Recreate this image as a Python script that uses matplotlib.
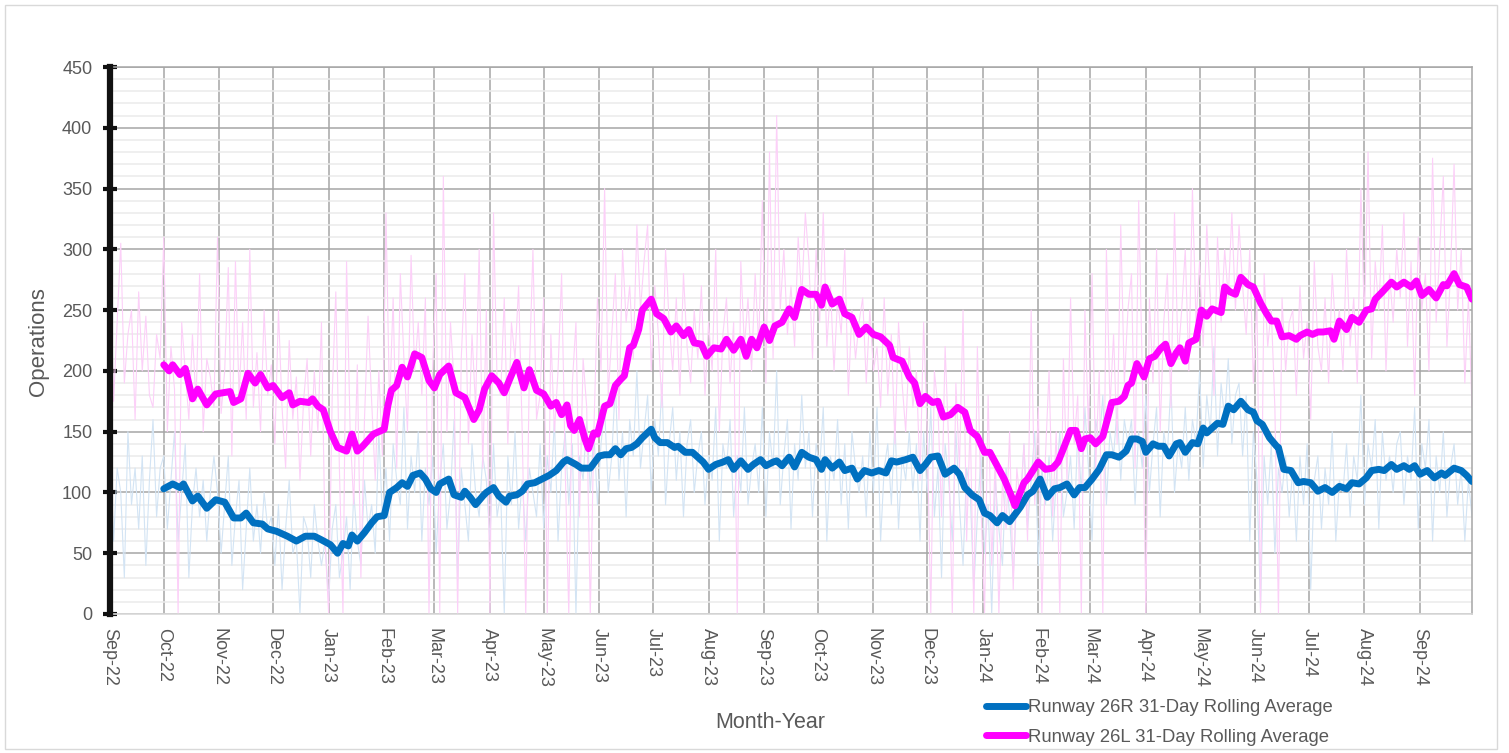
import numpy as np
import matplotlib
matplotlib.use("Agg")
import matplotlib.pyplot as plt
import matplotlib.dates as mdates
from matplotlib.patches import Rectangle
from matplotlib.lines import Line2D
from matplotlib.ticker import MultipleLocator

plt.rcParams['font.family'] = ['Liberation Sans', 'DejaVu Sans']

START = np.datetime64('2022-09-01')
RAW_STEP_DAYS = 2

# Daily operations (estimated from the faint traces, one value every 2 days from 2022-09-01)
runway_26l_daily = [
    300, 175, 240, 305, 190, 230, 250, 160, 265, 200, 245, 180, 170, 230, 210,
    310, 150, 220, 185, 0, 240, 200, 160, 230, 175, 280, 150, 210, 195, 170,
    310, 165, 200, 285, 130, 290, 180, 240, 160, 300, 170, 215, 150, 250, 180,
    205, 140, 250, 170, 120, 225, 160, 195, 110, 175, 210, 130, 200, 150, 240,
    60, 0, 180, 265, 120, 0, 290, 150, 90, 205, 30, 160, 245, 175, 110,
    200, 130, 330, 170, 260, 120, 280, 210, 150, 295, 200, 240, 180, 260, 0,
    200, 280, 0, 360, 150, 240, 190, 0, 210, 280, 140, 230, 170, 300, 120,
    250, 0, 330, 190, 180, 260, 140, 240, 210, 270, 150, 0, 200, 300, 160,
    180, 260, 0, 230, 150, 200, 280, 120, 0, 190, 240, 80, 210, 170, 0,
    150, 260, 200, 350, 180, 230, 280, 160, 300, 240, 270, 210, 320, 250, 290,
    320, 200, 270, 230, 170, 300, 240, 200, 260, 180, 280, 220, 190, 250, 210,
    270, 180, 240, 200, 300, 150, 230, 260, 190, 240, 0, 290, 220, 260, 200,
    280, 220, 340, 190, 380, 210, 410, 250, 300, 230, 270, 220, 310, 260, 330,
    290, 210, 300, 240, 330, 220, 270, 200, 260, 230, 300, 180, 250, 210, 240,
    260, 190, 250, 200, 220, 170, 260, 180, 230, 140, 240, 190, 150, 220, 170,
    200, 110, 240, 150, 0, 200, 170, 80, 220, 140, 0, 190, 120, 250, 60,
    160, 0, 220, 90, 0, 180, 40, 130, 0, 110, 70, 150, 20, 120, 90,
    140, 60, 250, 90, 170, 0, 130, 200, 80, 150, 0, 210, 110, 260, 140,
    180, 0, 250, 150, 280, 120, 200, 0, 300, 170, 230, 140, 320, 190, 250,
    280, 120, 340, 200, 0, 260, 190, 300, 150, 240, 280, 170, 330, 210, 250,
    300, 200, 350, 240, 290, 220, 320, 260, 180, 310, 240, 300, 260, 330, 250,
    320, 270, 230, 300, 190, 260, 0, 280, 220, 250, 170, 0, 260, 200, 240,
    250, 180, 270, 210, 240, 160, 290, 220, 200, 260, 190, 280, 230, 250, 200,
    300, 220, 260, 190, 350, 240, 380, 210, 290, 250, 320, 200, 280, 240, 300,
    260, 330, 220, 290, 180, 310, 250, 280, 200, 375, 240, 300, 360, 220, 280,
    370, 250, 300, 190, 260, 170,
]
runway_26r_daily = [
    140, 60, 120, 100, 30, 150, 90, 120, 70, 130, 40, 110, 160, 80, 120,
    130, 70, 110, 150, 60, 100, 140, 30, 90, 120, 80, 110, 60, 100, 130,
    100, 50, 90, 130, 40, 80, 110, 20, 70, 120, 60, 90, 50, 100, 70,
    80, 40, 90, 20, 70, 110, 50, 60, 0, 80, 70, 30, 90, 60, 40,
    60, 10, 70, 90, 30, 50, 80, 20, 100, 60, 40, 110, 70, 90, 50,
    150, 80, 120, 60, 140, 110, 90, 170, 70, 130, 100, 150, 60, 120, 90,
    130, 50, 110, 140, 70, 100, 160, 30, 120, 90, 60, 140, 100, 80, 130,
    110, 60, 140, 80, 100, 0, 130, 90, 150, 70, 110, 60, 120, 100, 80,
    140, 70, 130, 100, 160, 60, 120, 150, 90, 140, 0, 130, 110, 160, 100,
    150, 90, 140, 170, 100, 130, 190, 110, 150, 80, 160, 130, 200, 120, 150,
    180, 100, 160, 130, 190, 90, 140, 170, 110, 150, 80, 140, 160, 100, 130,
    150, 90, 130, 110, 170, 60, 140, 120, 160, 80, 130, 100, 170, 90, 120,
    140, 100, 170, 80, 150, 120, 200, 90, 130, 160, 70, 140, 110, 180, 120,
    150, 80, 140, 120, 170, 60, 130, 110, 160, 90, 140, 70, 150, 120, 100,
    130, 80, 150, 100, 170, 60, 120, 140, 90, 160, 70, 130, 110, 150, 100,
    140, 60, 150, 100, 170, 80, 120, 30, 140, 110, 60, 150, 90, 40, 120,
    100, 20, 80, 130, 50, 90, 0, 110, 70, 40, 120, 80, 30, 100, 90,
    140, 70, 110, 150, 40, 120, 90, 130, 60, 110, 150, 80, 100, 130, 70,
    150, 100, 170, 120, 60, 160, 140, 180, 90, 150, 130, 170, 110, 160, 140,
    160, 90, 150, 120, 180, 100, 140, 170, 80, 150, 130, 190, 100, 140, 120,
    170, 110, 160, 140, 200, 120, 180, 150, 220, 130, 190, 160, 210, 140, 180,
    190, 130, 180, 60, 150, 110, 5, 130, 90, 140, 50, 120, 100, 130, 80,
    120, 60, 130, 90, 140, 20, 110, 130, 70, 120, 90, 150, 60, 110, 100,
    140, 80, 130, 110, 180, 90, 140, 120, 160, 70, 150, 110, 130, 100, 140,
    150, 90, 130, 110, 170, 70, 140, 120, 160, 60, 130, 100, 150, 80, 120,
    140, 90, 120, 60, 110, 80,
]

# 31-day rolling averages (day offset from 2022-09-01, value)
avg_26l_days = [30,33,35,39,42,46,49,54,59,63,67,69,73,77,81,84,88,91,96,100,102,106,111,113,116,119,123,127,132,135,138,141,147,153,155,157,160,163,166,170,174,178,181,184,189,193,198,203,206,209,213,217,220,223,227,231,234,238,242,246,249,252,255,257,259,262,265,267,270,272,276,279,282,285,287,290,292,295,297,302,305,309,313,316,320,323,326,330,333,337,341,344,348,352,355,358,361,365,368,371,375,379,382,386,390,394,397,399,403,407,410,414,418,422,426,430,435,437,442,446,449,452,455,459,462,465,469,473,477,480,484,488,491,495,499,503,505,510,512,515,518,522,526,529,532,536,539,542,544,547,550,554,557,559,563,566,568,570,573,577,580,583,586,589,592,595,597,600,602,606,609,612,615,620,622,625,628,631,635,638,642,645,648,651,654,658,662,664,668,671,674,677,681,683,686,690,693,697,701,704,706,710,715,718,722,726,729,732,736,740,744,746,750,753,757,760]
avg_26l_vals = [205,200,205,197,202,177,185,172,181,182,183,174,177,198,190,197,186,188,178,182,172,175,174,177,171,168,150,137,134,148,134,138,148,152,171,184,188,203,195,214,211,192,186,197,204,182,178,160,168,185,196,190,182,193,207,186,201,184,181,171,174,164,172,155,151,160,144,136,149,148,171,173,188,193,196,219,221,234,250,259,247,243,232,237,229,234,223,222,212,219,218,226,217,226,212,226,219,236,225,237,240,251,244,267,263,263,254,269,255,259,247,244,230,236,230,228,221,211,208,195,190,173,179,174,175,162,164,170,166,151,146,133,133,122,111,97,89,108,111,118,125,119,120,125,136,151,151,136,144,145,140,146,163,174,175,179,188,190,206,195,210,212,218,222,206,215,219,208,223,226,250,245,251,248,269,265,263,277,271,269,256,248,241,241,228,229,226,229,232,230,232,232,233,226,241,234,244,240,250,251,259,265,273,269,273,269,274,262,267,260,271,270,280,271,269,259]

avg_26r_days = [30,35,39,41,46,49,54,59,64,69,73,76,80,85,88,93,99,104,109,114,118,123,127,130,133,135,138,142,146,149,153,156,160,163,166,169,173,176,179,182,184,189,192,196,198,201,204,208,210,214,217,221,223,227,230,233,237,241,245,249,253,255,260,263,268,273,276,279,282,285,288,291,294,297,302,304,307,311,315,317,321,325,328,331,334,338,342,345,348,352,356,359,363,366,370,372,375,379,382,386,390,394,397,399,403,407,410,414,417,421,425,429,433,436,439,444,448,452,455,458,462,466,471,474,477,481,485,488,491,495,498,502,505,508,512,515,519,523,527,530,534,538,541,544,548,552,556,559,563,567,570,573,576,578,582,585,588,591,595,597,600,604,607,610,612,615,618,621,624,627,631,635,638,640,643,647,651,652,655,659,663,666,670,674,678,682,686,690,693,697,701,704,708,711,715,718,722,725,728,731,735,739,743,745,750,754,757,760]
avg_26r_vals = [103,107,104,107,93,97,87,94,92,79,79,83,75,74,70,68,64,60,64,64,61,57,50,58,56,65,60,67,75,80,81,100,104,108,105,114,116,111,103,100,107,111,98,96,101,96,90,97,100,104,97,92,97,98,101,107,108,111,114,118,125,127,123,120,120,130,131,131,136,131,136,137,140,145,152,145,141,141,137,138,133,133,129,125,119,123,125,127,119,126,119,123,127,122,125,126,122,129,121,133,129,127,119,127,120,125,118,120,111,118,116,118,116,126,125,127,129,118,123,129,130,115,120,115,104,98,94,83,81,75,81,76,82,88,98,101,111,96,103,104,107,98,104,104,111,119,131,131,129,134,144,144,142,133,140,138,138,130,140,141,133,141,140,153,149,153,157,156,171,168,175,168,166,159,156,145,138,137,119,118,108,109,108,101,104,100,105,103,108,107,112,118,119,118,123,119,122,119,122,115,118,112,116,114,120,118,114,109]

y_ticks = [0, 50, 100, 150, 200, 250, 300, 350, 400, 450]
legend_labels = ["Runway 26R 31-Day Rolling Average", "Runway 26L 31-Day Rolling Average"]

W, H = 1509, 753
fig = plt.figure(figsize=(W / 100, H / 100), dpi=100)
fig.patch.set_facecolor('white')
fig.add_artist(Rectangle((5 / W, 4 / H), 1492 / W, 744 / H, transform=fig.transFigure,
                         fill=False, edgecolor='#d9d9d9', lw=1.0))

ax = fig.add_axes([110 / W, 1 - 614 / H, (1472 - 110) / W, (614 - 67) / H])

raw_dates = START + np.arange(len(runway_26l_daily)) * RAW_STEP_DAYS
raw_dates_r = START + np.arange(len(runway_26r_daily)) * RAW_STEP_DAYS
ax.plot(raw_dates_r, runway_26r_daily, color='#d3e4f4', lw=0.8, zorder=2)
ax.plot(raw_dates, runway_26l_daily, color='#fcd0f8', lw=0.8, zorder=2)

d26r = START + np.array(avg_26r_days)
d26l = START + np.array(avg_26l_days)
ax.plot(d26r, avg_26r_vals, color='#0070c0', lw=5.0, solid_capstyle='round',
        solid_joinstyle='round', zorder=4)
ax.plot(d26l, avg_26l_vals, color='#ff00ff', lw=5.0, solid_capstyle='round',
        solid_joinstyle='round', zorder=5)

ax.set_ylim(0, 450)
ax.set_xlim(START, START + np.timedelta64(760, 'D'))
ax.set_yticks(y_ticks)
ax.yaxis.set_minor_locator(MultipleLocator(10))
ax.xaxis.set_major_locator(mdates.MonthLocator())
ax.xaxis.set_major_formatter(mdates.DateFormatter('%b-%y'))

ax.grid(which='major', axis='both', color='#a6a6a6', lw=1.1, zorder=1)
ax.grid(which='minor', axis='y', color='#ebebeb', lw=1.1, zorder=0.5)
ax.set_axisbelow(True)

for s in ['top', 'right']:
    ax.spines[s].set_color('#a6a6a6')
    ax.spines[s].set_linewidth(1.1)
ax.spines['bottom'].set_color('#d9d9d9')
ax.spines['bottom'].set_linewidth(1.2)
ax.spines['left'].set_color('#111111')
ax.spines['left'].set_linewidth(4.5)
ax.spines['left'].set_zorder(6)

ax.tick_params(axis='y', which='major', direction='inout', length=9.5, width=3,
               color='#111111', labelsize=13, labelcolor='#595959', pad=8)
ax.tick_params(axis='y', which='minor', length=0)
ax.tick_params(axis='x', which='major', length=0, labelsize=13, labelcolor='#595959',
               pad=10, labelrotation=-90)
for lab in ax.get_xticklabels():
    lab.set_verticalalignment('top')
    lab.set_horizontalalignment('center')

fig.text(38 / W, 1 - 342 / H, 'Operations', rotation=90, ha='center', va='center',
         fontsize=16, color='#595959')
fig.text(770 / W, 1 - 723 / H, 'Month-Year', ha='center', va='center',
         fontsize=15.5, color='#595959')

handles = [Line2D([], [], color='#0070c0', lw=5.0, solid_capstyle='round'),
           Line2D([], [], color='#ff00ff', lw=5.0, solid_capstyle='round')]
fig.legend(handles, legend_labels, loc='upper left', bbox_to_anchor=(986 / W, 1 - 699 / H),
           frameon=False, fontsize=13.3, handlelength=2.15, handletextpad=0.12,
           labelspacing=0.68, borderpad=0, borderaxespad=0, labelcolor='#595959')

fig.savefig('out.png', dpi=100, facecolor='white')
